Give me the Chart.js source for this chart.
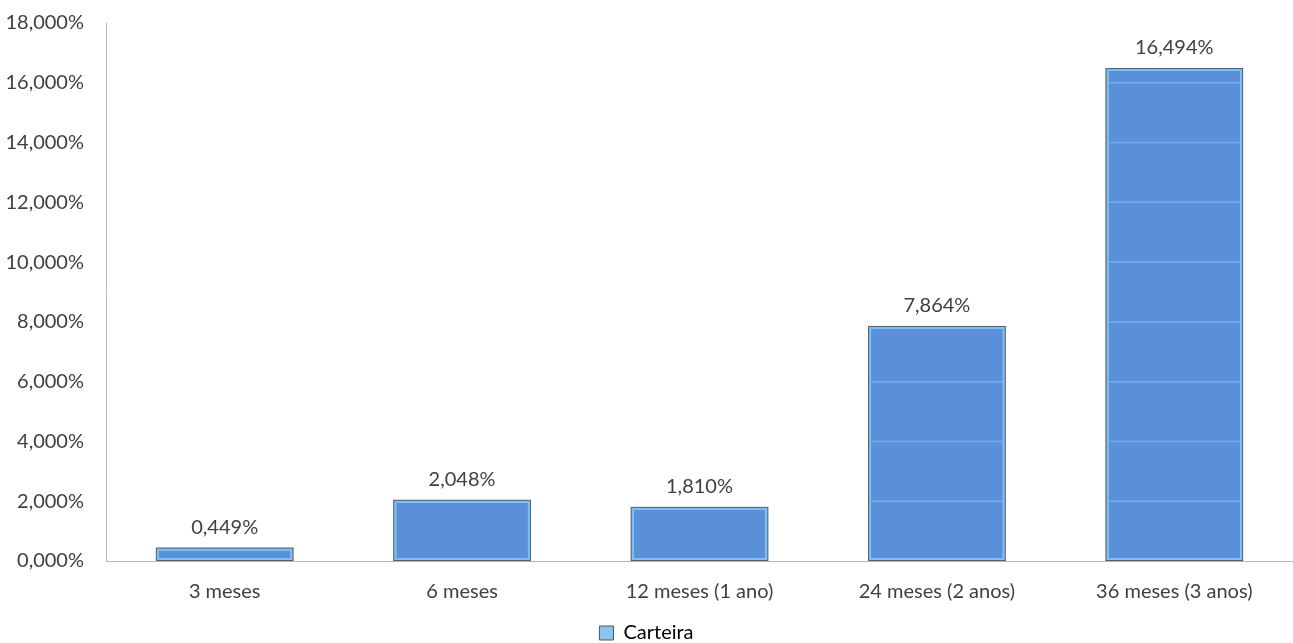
<!DOCTYPE html>
<html>
<head>
<meta charset="utf-8">
<script src="https://cdn.jsdelivr.net/npm/chart.js@4/dist/chart.umd.min.js"></script>
<style>
  html, body { margin: 0; padding: 0; background: #fff; }
  #wrap { width: 1293px; height: 643px; }
</style>
</head>
<body>
<div id="wrap"><canvas id="bar-chartcanvas"></canvas></div>
<script>
var categories = ["3 meses", "6 meses", "12 meses (1 ano)", "24 meses (2 anos)", "36 meses (3 anos)"];
var carteira = [0.449, 2.048, 1.810, 7.864, 16.494];
var yTicks = [0, 2, 4, 6, 8, 10, 12, 14, 16, 18];

function pct(v) {
	return v.toFixed(3).replace(".", ",") + "%";
}

// light lines across the bars at each tick, a dark outline and the value above
var barDecor = {
	id: "barDecor",
	afterDatasetsDraw: function(chart) {
		var c = chart.ctx;
		var y = chart.scales.y;
		var meta = chart.getDatasetMeta(0);
		meta.data.forEach(function(bar, i) {
			var half = bar.width / 2;
			var left = bar.x - half, right = bar.x + half;
			var top = bar.y, bottom = bar.base;
			c.save();
			c.strokeStyle = "rgba(120,190,240,0.7)";
			c.lineWidth = 1.5;
			yTicks.forEach(function(t) {
				if (t === 0) return;
				var py = y.getPixelForValue(t);
				if (py > top + 3 && py < bottom - 3) {
					c.beginPath();
					c.moveTo(left + 3, py);
					c.lineTo(right - 3, py);
					c.stroke();
				}
			});
			c.strokeStyle = "#555e6a";
			c.lineWidth = 1;
			c.strokeRect(left + 0.5, top + 0.5, bar.width - 1, bottom - top - 1);
			c.fillStyle = "#404040";
			c.font = "20px Lato";
			c.textAlign = "center";
			c.textBaseline = "middle";
			c.fillText(pct(carteira[i]), bar.x, top - 20);
			c.restore();
		});
	}
};

var ctx = document.getElementById("bar-chartcanvas");

var data = {
	labels: categories,
	datasets: [
		{
			label: "Carteira",
			data: carteira,
			backgroundColor: "#5a8fd9",
			borderColor: "#7cc0f2",
			borderWidth: 3,
			borderSkipped: false,
			categoryPercentage: 1.0,
			barPercentage: 0.58
		}
	]
};

var options = {
	responsive: true,
	maintainAspectRatio: false,
	animation: false,
	layout: { padding: { top: 23, right: 0, left: 0, bottom: -10 } },
	scales: {
		x: {
			grid: { display: false, drawTicks: false },
			border: { color: "#b5b5b5", width: 1 },
			ticks: { color: "#404040", font: { family: "Lato", size: 20 }, padding: 19 }
		},
		y: {
			min: 0,
			max: 18,
			afterBuildTicks: function(scale) {
				scale.ticks = yTicks.map(function(v) { return { value: v }; });
			},
			afterFit: function(scale) {
				scale.width = 106;
				scale.paddingTop = 0;
				scale.paddingBottom = 0;
			},
			grid: { display: false, drawTicks: false },
			border: { color: "#b5b5b5", width: 1 },
			ticks: {
				color: "#404040",
				font: { family: "Lato", size: 20 },
				padding: 22,
				callback: function(v) { return pct(v); }
			}
		}
	},
	plugins: {
		tooltip: { enabled: false },
		legend: {
			position: "bottom",
			labels: {
				color: "#404040",
				font: { family: "Lato", size: 20 },
				boxWidth: 14,
				boxHeight: 14,
				padding: 0,
				generateLabels: function() {
					return [{
						text: "Carteira",
						fillStyle: "#8cc4f0",
						strokeStyle: "#4a5868",
						lineWidth: 1,
						datasetIndex: 0
					}];
				}
			}
		}
	}
};

var chart = new Chart(ctx, {
	type: "bar",
	data: data,
	options: options,
	plugins: [barDecor]
});
</script>
</body>
</html>
